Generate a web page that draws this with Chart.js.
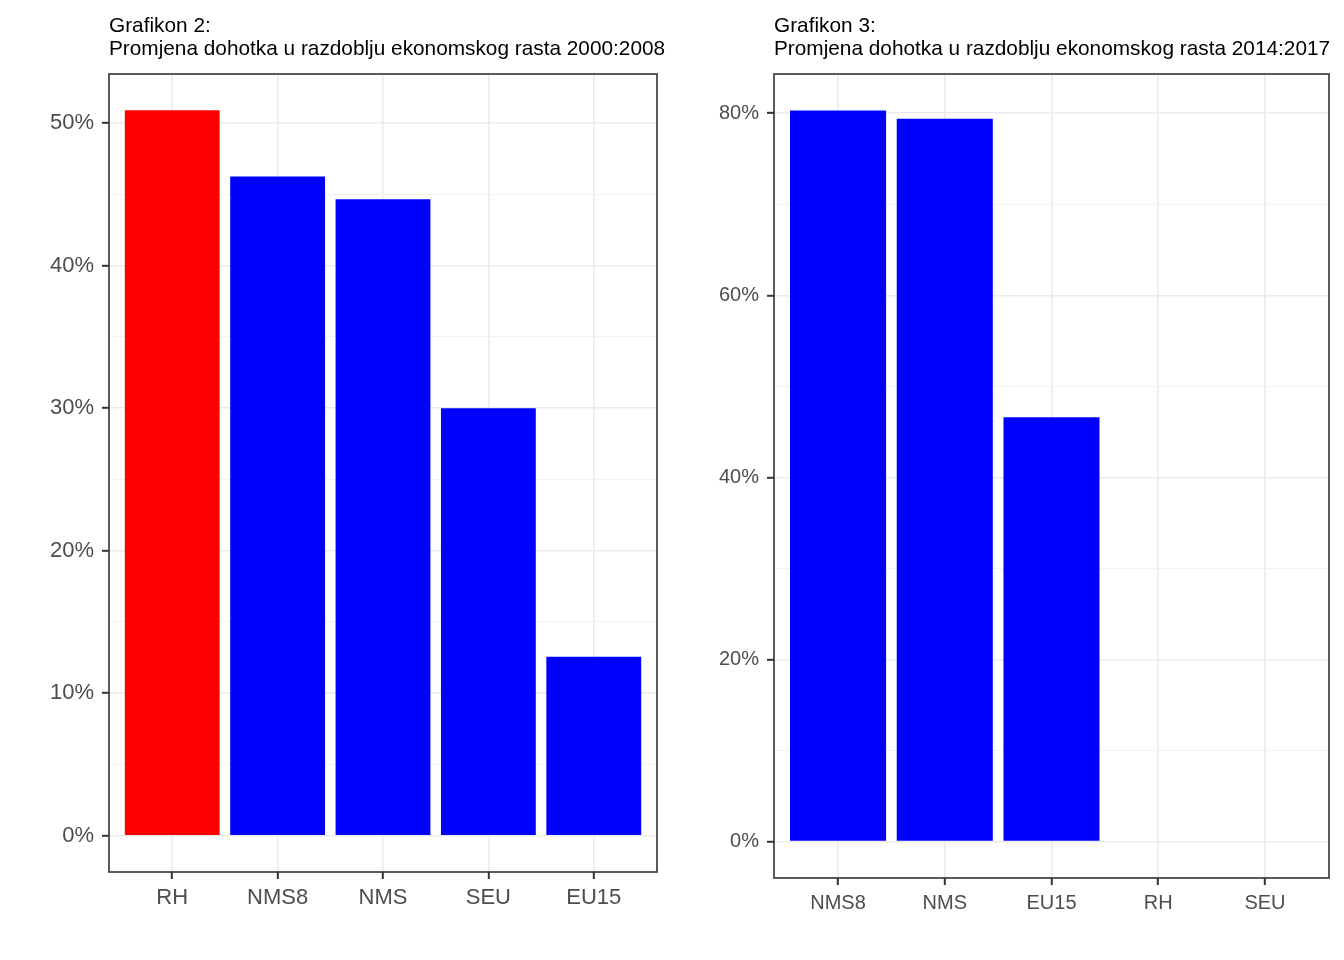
<!DOCTYPE html>
<html>
<head>
<meta charset="utf-8">
<script src="https://cdn.jsdelivr.net/npm/chart.js@4.4.1/dist/chart.umd.min.js"></script>
<style>
body { margin: 0; background: #fff; }
.wrap { position: absolute; top: 0; width: 672px; height: 960px; }
</style>
</head>
<body>
<div class="wrap" style="left:0"><canvas id="left"></canvas></div>
<div class="wrap" style="left:672px"><canvas id="right"></canvas></div>
<script>
// Grafikon 2: 2000:2008
var categories1 = ['RH', 'NMS8', 'NMS', 'SEU', 'EU15'];
var values1 = [50.9, 46.25, 44.65, 30.0, 12.55];
var colors1 = ['rgb(255, 0, 0)', 'rgb(0, 0, 255)', 'rgb(0, 0, 255)', 'rgb(0, 0, 255)', 'rgb(0, 0, 255)'];
var majorTicks1 = [0, 10, 20, 30, 40, 50];
var minorTicks1 = [5, 15, 25, 35, 45];
var title1 = ['Grafikon 2:', 'Promjena dohotka u razdoblju ekonomskog rasta 2000:2008'];

// Grafikon 3: 2014:2017
var categories2 = ['NMS8', 'NMS', 'EU15', 'RH', 'SEU'];
var values2 = [80.3, 79.4, 46.6, null, null];
var colors2 = ['rgb(0, 0, 255)', 'rgb(0, 0, 255)', 'rgb(0, 0, 255)', 'rgb(0, 0, 255)', 'rgb(0, 0, 255)'];
var majorTicks2 = [0, 20, 40, 60, 80];
var minorTicks2 = [10, 30, 50, 70];
var title2 = ['Grafikon 3:', 'Promjena dohotka u razdoblju ekonomskog rasta 2014:2017'];

var fontFamily = '"Liberation Sans", Arial, sans-serif';

// panel box on top of the bars, like ggplot's panel.border
var panelBorder = {
    id: 'panelBorder',
    afterDatasetsDraw: function (chart) {
        var a = chart.chartArea;
        var ctx = chart.ctx;
        ctx.save();
        ctx.strokeStyle = '#333333';
        ctx.lineWidth = 1.6;
        ctx.strokeRect(a.left, a.top, a.right - a.left, a.bottom - a.top);
        ctx.restore();
    }
};

// title left-aligned to the panel, allowed to run past its right edge
var panelTitle = {
    id: 'panelTitle',
    afterDraw: function (chart, args, opts) {
        var ctx = chart.ctx;
        ctx.save();
        ctx.fillStyle = '#000000';
        ctx.font = opts.size + 'px ' + fontFamily;
        ctx.textAlign = 'left';
        ctx.textBaseline = 'alphabetic';
        opts.text.forEach(function (line, i) {
            ctx.fillText(line, chart.chartArea.left, opts.baseline + i * opts.lineHeight);
        });
        ctx.restore();
    }
};

function makeChart(id, cats, vals, colors, major, minor, title, opt) {
    var maxVal = Math.max.apply(null, vals.filter(function (v) { return v !== null; }));
    var pad = maxVal * 0.05;
    var isMajor = function (v) { return major.indexOf(v) >= 0; };

    return new Chart(document.getElementById(id).getContext('2d'), {
        type: 'bar',
        data: {
            datasets: [{
                data: vals.map(function (v, i) { return { x: i, y: v }; }),
                backgroundColor: colors,
                borderWidth: 0,
                barPercentage: 0.9,
                categoryPercentage: 1.0
            }]
        },
        plugins: [panelBorder, panelTitle],
        options: {
            responsive: true,
            maintainAspectRatio: false,
            animation: false,
            layout: { padding: { left: 0, right: 15, top: 74, bottom: 0 } },
            plugins: {
                legend: { display: false },
                tooltip: { enabled: false },
                title: { display: false },
                panelTitle: { text: title, size: 20.8, baseline: 31.5, lineHeight: 23 }
            },
            scales: {
                x: {
                    type: 'linear',
                    offset: false,
                    min: -0.6,
                    max: cats.length - 0.4,
                    afterBuildTicks: function (s) {
                        s.ticks = cats.map(function (c, i) { return { value: i }; });
                    },
                    afterFit: function (s) { s.height = opt.xHeight; },
                    border: { display: false },
                    grid: {
                        offset: false,
                        color: '#EBEBEB',
                        lineWidth: 1.6,
                        drawTicks: true,
                        tickLength: 7,
                        tickColor: '#333333',
                        tickWidth: 2
                    },
                    ticks: {
                        color: '#4D4D4D',
                        padding: 6,
                        maxRotation: 0,
                        autoSkip: false,
                        font: { family: fontFamily, size: opt.fontSize },
                        callback: function (v) { return cats[v]; }
                    }
                },
                y: {
                    type: 'linear',
                    min: -pad,
                    max: maxVal + pad,
                    afterBuildTicks: function (s) {
                        s.ticks = major.concat(minor).sort(function (a, b) { return a - b; })
                            .map(function (v) { return { value: v }; });
                    },
                    afterFit: function (s) { s.width = opt.yWidth; },
                    border: { display: false },
                    grid: {
                        color: function (c) { return isMajor(c.tick.value) ? '#EBEBEB' : '#F3F3F3'; },
                        lineWidth: function (c) { return isMajor(c.tick.value) ? 1.6 : 1; },
                        drawTicks: true,
                        tickLength: 7,
                        tickColor: function (c) { return isMajor(c.tick.value) ? '#333333' : 'rgba(0,0,0,0)'; },
                        tickWidth: 2
                    },
                    ticks: {
                        color: '#4D4D4D',
                        padding: 8,
                        autoSkip: false,
                        font: { family: fontFamily, size: opt.fontSize },
                        callback: function (v) { return isMajor(v) ? v + '%' : ''; }
                    }
                }
            }
        }
    });
}

makeChart('left', categories1, values1, colors1, majorTicks1, minorTicks1, title1,
    { xHeight: 88, yWidth: 109, fontSize: 22 });
makeChart('right', categories2, values2, colors2, majorTicks2, minorTicks2, title2,
    { xHeight: 82, yWidth: 102, fontSize: 20 });
</script>
</body>
</html>
